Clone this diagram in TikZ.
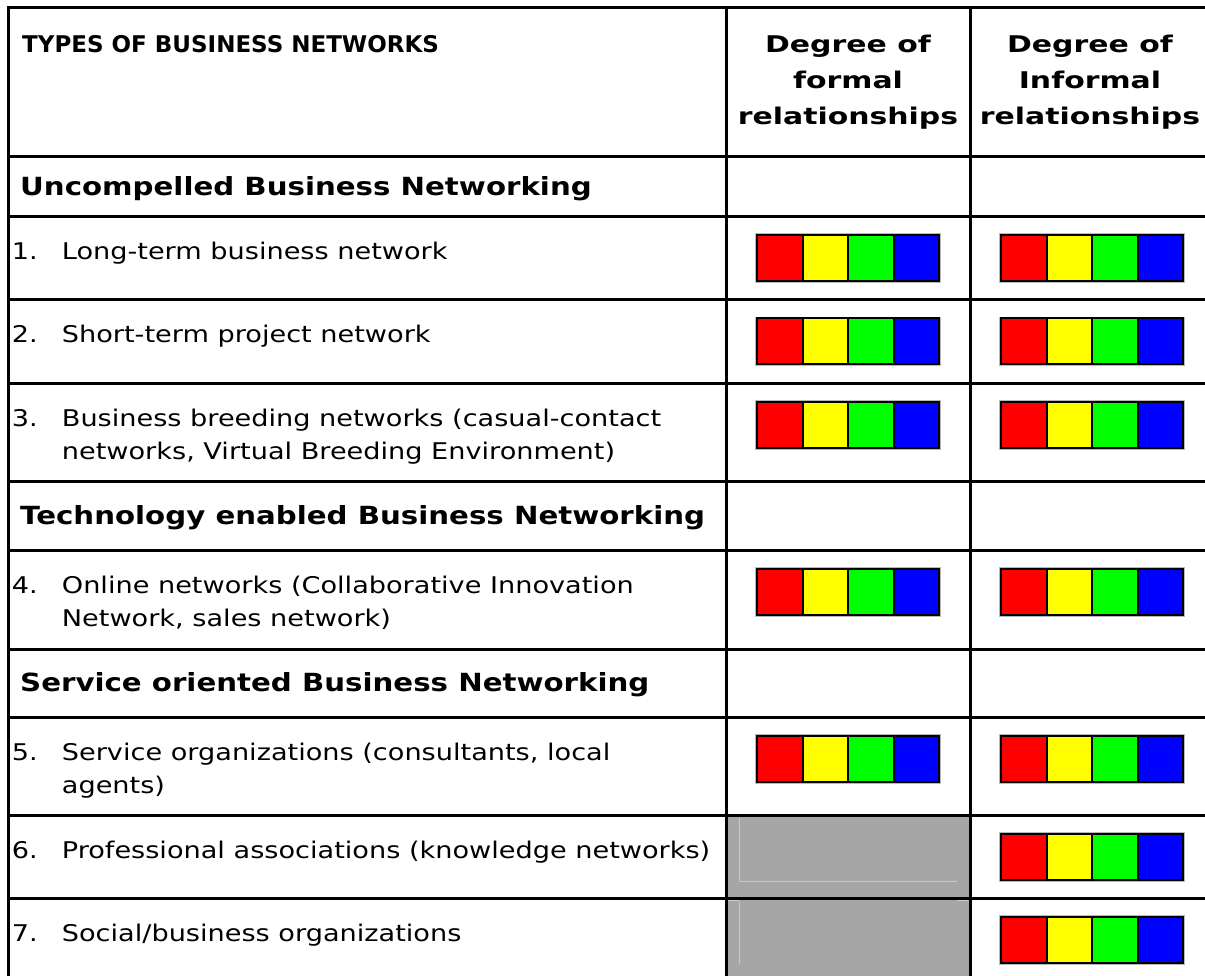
\documentclass[tikz,border=0pt]{standalone}
\usepackage{fontspec}
\newfontfamily\vf{DejaVu Sans}[FakeStretch=1.18]
\newfontfamily\vfs{DejaVu Sans}[FakeStretch=1.17]
\newfontfamily\vfh{DejaVu Sans}[FakeStretch=1.3]
\newfontfamily\vft{DejaVu Sans}[FakeStretch=1.0]
\definecolor{cR}{RGB}{255,0,0}
\definecolor{cY}{RGB}{255,255,0}
\definecolor{cG}{RGB}{0,255,0}
\definecolor{cB}{RGB}{0,0,255}
\definecolor{cellgray}{RGB}{166,166,166}
\definecolor{faint}{RGB}{200,200,200}
\newcommand\cbar[2]{%
  \draw[gray!55, line width=3.6pt] (#1,#2) rectangle ++(182,46);
  \foreach \c [count=\i from 0] in {cR,cY,cG,cB}
    {\filldraw[fill=\c, draw=black, line width=2pt] ({#1+\i*45.5},#2) rectangle ++(45.5,46);}
}
\begin{document}
\begin{tikzpicture}[x=1pt,y=-1pt,
  grid/.style={line width=3pt,black,line cap=rect},
  txt/.style={inner sep=0pt,anchor=base west,font={\vf\fontsize{23}{27}\selectfont}},
  sec/.style={inner sep=0pt,anchor=base west,font={\vfs\bfseries\fontsize{25}{29}\selectfont}},
  hd/.style={inner sep=0pt,anchor=base,font={\vfh\bfseries\fontsize{23}{27}\selectfont}},
  hdl/.style={inner sep=0pt,anchor=base west,font={\vft\bfseries\fontsize{23}{27}\selectfont}}]
\useasboundingbox (0,0) rectangle (1205,975);
\fill[white] (0,0) rectangle (1205,975);

% gray cells
\fill[cellgray] (726,815.7) rectangle (970.7,980);
\draw[faint, line width=0.8pt] (739,818) -- (739,881) -- (957,881);
\draw[faint, line width=0.8pt] (739,901) -- (739,964);
\draw[faint, line width=0.8pt] (728,900.6) -- (739,900.6);
\draw[faint, line width=0.8pt] (957,900.6) -- (969,900.6);

% grid
\foreach \y in {7.3,156.7,216.7,299,383.7,481.7,550.7,649,717.7,815.7,898.7}
  {\draw[grid] (8,\y) -- (1212,\y);}
\foreach \x in {8,726,970.7}
  {\draw[grid] (\x,7.3) -- (\x,985);}

% header
\node[hdl] (h1) at (22,52) {TYPES OF BUSINESS NETWORKS};
\node[hd] (h2a) at (848,52) {Degree of};
\node[hd] (h2b) at (848,88) {formal};
\node[hd] (h2c) at (848,124) {relationships};
\node[hd] (h3a) at (1090,52) {Degree of};
\node[hd] (h3b) at (1090,88) {Informal};
\node[hd] (h3c) at (1090,124) {relationships};

% sections
\node[sec] (s1) at (20,195) {Uncompelled Business Networking};
\node[sec] (s2) at (20,524) {Technology enabled Business Networking};
\node[sec] (s3) at (20,691) {Service oriented Business Networking};

% items
\node[txt] (n1) at (11.7,259) {1.};
\node[txt] (t1) at (61.7,259) {Long-term business network};
\node[txt] (n2) at (11.7,342.3) {2.};
\node[txt] (t2) at (61.7,342.3) {Short-term project network};
\node[txt] (n3) at (11.7,426) {3.};
\node[txt] (t3a) at (61.7,426) {Business breeding networks (casual-contact};
\node[txt] (t3b) at (61.7,459) {networks, Virtual Breeding Environment)};
\node[txt] (n4) at (11.7,593) {4.};
\node[txt] (t4a) at (61.7,593) {Online networks (Collaborative Innovation};
\node[txt] (t4b) at (61.7,626) {Network, sales network)};
\node[txt] (n5) at (11.7,760) {5.};
\node[txt] (t5a) at (61.7,760) {Service organizations (consultants, local};
\node[txt] (t5b) at (61.7,793) {agents)};
\node[txt] (n6) at (11.7,858) {6.};
\node[txt] (t6) at (61.7,858) {Professional associations (knowledge networks)};
\node[txt] (n7) at (11.7,941) {7.};
\node[txt] (t7) at (61.7,941) {Social/business organizations};

% colour bars
\foreach \y in {235,318.3,402,569,736} {\cbar{757}{\y}}
\foreach \y in {235,318.3,402,569,736,834,917} {\cbar{1001}{\y}}
\end{tikzpicture}
\end{document}
